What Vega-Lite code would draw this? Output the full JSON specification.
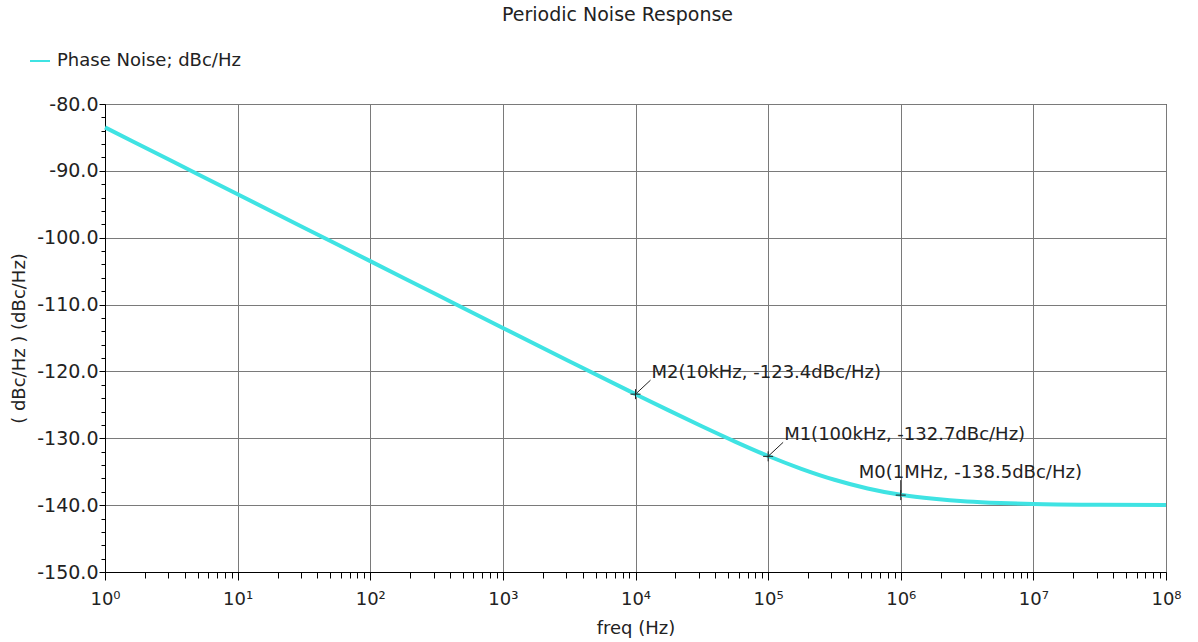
{
  "$schema": "https://vega.github.io/schema/vega-lite/v6.json",
  "width": 1061,
  "height": 468,
  "autosize": {"type": "none"},
  "padding": {"left": 105, "top": 104, "right": 32, "bottom": 70},
  "background": "#ffffff",
  "config": {
    "view": {"stroke": "#000000", "strokeWidth": 1},
    "font": "DejaVu Sans"
  },
  "title": {
    "text": "Periodic Noise Response",
    "font": "DejaVu Sans",
    "fontSize": 19,
    "fontWeight": "normal",
    "color": "#222222",
    "anchor": "middle",
    "dx": -18,
    "offset": 25
  },
  "datasets": {
    "curve": [
      {"f": 1, "v": -83.5, "series": "Phase Noise; dBc/Hz"},
      {"f": 3.162, "v": -88.5, "series": "Phase Noise; dBc/Hz"},
      {"f": 10, "v": -93.5, "series": "Phase Noise; dBc/Hz"},
      {"f": 31.62, "v": -98.5, "series": "Phase Noise; dBc/Hz"},
      {"f": 100, "v": -103.5, "series": "Phase Noise; dBc/Hz"},
      {"f": 316.2, "v": -108.5, "series": "Phase Noise; dBc/Hz"},
      {"f": 1000, "v": -113.5, "series": "Phase Noise; dBc/Hz"},
      {"f": 3162, "v": -118.47, "series": "Phase Noise; dBc/Hz"},
      {"f": 10000, "v": -123.4, "series": "Phase Noise; dBc/Hz"},
      {"f": 17783, "v": -125.83, "series": "Phase Noise; dBc/Hz"},
      {"f": 31623, "v": -128.2, "series": "Phase Noise; dBc/Hz"},
      {"f": 56234, "v": -130.49, "series": "Phase Noise; dBc/Hz"},
      {"f": 100000, "v": -132.65, "series": "Phase Noise; dBc/Hz"},
      {"f": 177828, "v": -134.56, "series": "Phase Noise; dBc/Hz"},
      {"f": 316228, "v": -136.2, "series": "Phase Noise; dBc/Hz"},
      {"f": 562341, "v": -137.5, "series": "Phase Noise; dBc/Hz"},
      {"f": 1000000, "v": -138.45, "series": "Phase Noise; dBc/Hz"},
      {"f": 1778279, "v": -139.05, "series": "Phase Noise; dBc/Hz"},
      {"f": 3162278, "v": -139.45, "series": "Phase Noise; dBc/Hz"},
      {"f": 5623413, "v": -139.68, "series": "Phase Noise; dBc/Hz"},
      {"f": 10000000, "v": -139.82, "series": "Phase Noise; dBc/Hz"},
      {"f": 31622777, "v": -139.94, "series": "Phase Noise; dBc/Hz"},
      {"f": 100000000, "v": -139.98, "series": "Phase Noise; dBc/Hz"}
    ],
    "markers": [
      {"f": 10000, "v": -123.4, "name": "M2", "label": "M2(10kHz, -123.4dBc/Hz)"},
      {"f": 100000, "v": -132.7, "name": "M1", "label": "M1(100kHz, -132.7dBc/Hz)"},
      {"f": 1000000, "v": -138.5, "name": "M0", "label": "M0(1MHz, -138.5dBc/Hz)"}
    ]
  },
  "layer": [
    {
      "data": {"name": "curve"},
      "mark": {"type": "line", "strokeWidth": 4, "interpolate": "monotone"},
      "encoding": {
        "x": {
          "field": "f",
          "type": "quantitative",
          "scale": {"type": "log", "domain": [1, 100000000], "nice": false},
          "axis": {
            "values": [1,2,3,4,5,6,7,8,9,10,20,30,40,50,60,70,80,90,100,200,300,400,500,600,700,800,900,1000,2000,3000,4000,5000,6000,7000,8000,9000,10000,20000,30000,40000,50000,60000,70000,80000,90000,100000,200000,300000,400000,500000,600000,700000,800000,900000,1000000,2000000,3000000,4000000,5000000,6000000,7000000,8000000,9000000,10000000,20000000,30000000,40000000,50000000,60000000,70000000,80000000,90000000,100000000],
            "tickCount": 200,
            "title": "freq (Hz)",
            "titleFont": "DejaVu Sans",
            "titleFontSize": 18,
            "titleFontWeight": "normal",
            "titleColor": "#222222",
            "titlePadding": 11,
            "labelExpr": "abs(log(datum.value)/LN10 - round(log(datum.value)/LN10)) < 0.01 ? '10' + ['⁰','¹','²','³','⁴','⁵','⁶','⁷','⁸'][round(log(datum.value)/LN10)] : ''",
            "labelFont": "DejaVu Sans",
            "labelFontSize": 18,
            "labelColor": "#222222",
            "labelOverlap": false,
            "labelFlush": false,
            "labelPadding": 10,
            "grid": true,
            "gridColor": "#7a7a7a",
            "gridWidth": 1,
            "gridOpacity": {"condition": {"test": "abs(log(datum.value)/LN10 - round(log(datum.value)/LN10)) < 0.01", "value": 1}, "value": 0},
            "tickSize": {"condition": {"test": "abs(log(datum.value)/LN10 - round(log(datum.value)/LN10)) < 0.01", "value": 8}, "value": 6},
            "tickColor": "#000000",
            "domainColor": "#000000"
          }
        },
        "y": {
          "field": "v",
          "type": "quantitative",
          "scale": {"domain": [-150, -80], "nice": false, "zero": false},
          "axis": {
            "values": [-150,-148,-146,-144,-142,-140,-138,-136,-134,-132,-130,-128,-126,-124,-122,-120,-118,-116,-114,-112,-110,-108,-106,-104,-102,-100,-98,-96,-94,-92,-90,-88,-86,-84,-82,-80],
            "tickCount": 200,
            "title": "( dBc/Hz ) (dBc/Hz)",
            "titleFont": "DejaVu Sans",
            "titleFontSize": 18,
            "titleFontWeight": "normal",
            "titleColor": "#222222",
            "titlePadding": 8,
            "labelExpr": "datum.value % 10 == 0 ? replace(format(datum.value, '.1f'), '\u2212', '-') : ''",
            "labelFont": "DejaVu Sans",
            "labelFontSize": 19,
            "labelColor": "#222222",
            "labelOverlap": false,
            "labelFlush": false,
            "labelPadding": 1,
            "grid": true,
            "gridColor": "#7a7a7a",
            "gridWidth": 1,
            "gridOpacity": {"condition": {"test": "datum.value % 10 == 0", "value": 1}, "value": 0},
            "tickSize": {"condition": {"test": "datum.value % 10 == 0", "value": 6}, "value": 4},
            "tickColor": "#000000",
            "domainColor": "#000000"
          }
        },
        "color": {
          "field": "series",
          "type": "nominal",
          "scale": {"range": ["#3fe3e3"]},
          "legend": {
            "title": null,
            "orient": "none",
            "legendX": -76,
            "legendY": -54,
            "symbolType": "stroke",
            "symbolSize": 400,
            "symbolStrokeWidth": 2,
            "labelFont": "DejaVu Sans",
            "labelFontSize": 18,
            "labelColor": "#222222",
            "labelOffset": 6,
            "labelLimit": 500
          }
        }
      }
    },
    {
      "data": {"name": "markers"},
      "transform": [{"filter": "datum.name != 'M0'"}],
      "mark": {"type": "rule", "color": "#222222", "strokeWidth": 1, "x2Offset": 15, "y2Offset": -14},
      "encoding": {
        "x": {"field": "f", "type": "quantitative"},
        "y": {"field": "v", "type": "quantitative"},
        "x2": {"field": "f"},
        "y2": {"field": "v"}
      }
    },
    {
      "data": {"name": "markers"},
      "transform": [{"filter": "datum.name == 'M0'"}],
      "mark": {"type": "rule", "color": "#222222", "strokeWidth": 1, "y2Offset": -15},
      "encoding": {
        "x": {"field": "f", "type": "quantitative"},
        "y": {"field": "v", "type": "quantitative"},
        "y2": {"field": "v"}
      }
    },
    {
      "data": {"name": "markers"},
      "mark": {"type": "point", "shape": "M-1,0L1,0M0,-1L0,1", "size": 100, "color": "#222222", "strokeWidth": 1, "filled": false, "opacity": 1},
      "encoding": {
        "x": {"field": "f", "type": "quantitative"},
        "y": {"field": "v", "type": "quantitative"}
      }
    },
    {
      "data": {"name": "markers"},
      "transform": [{"filter": "datum.name != 'M0'"}],
      "mark": {"type": "text", "align": "left", "baseline": "middle", "dx": 16, "dy": -21, "font": "DejaVu Sans", "fontSize": 18, "color": "#222222"},
      "encoding": {
        "x": {"field": "f", "type": "quantitative"},
        "y": {"field": "v", "type": "quantitative"},
        "text": {"field": "label"}
      }
    },
    {
      "data": {"name": "markers"},
      "transform": [{"filter": "datum.name == 'M0'"}],
      "mark": {"type": "text", "align": "left", "baseline": "middle", "dx": -42, "dy": -22, "font": "DejaVu Sans", "fontSize": 18, "color": "#222222"},
      "encoding": {
        "x": {"field": "f", "type": "quantitative"},
        "y": {"field": "v", "type": "quantitative"},
        "text": {"field": "label"}
      }
    }
  ]
}
